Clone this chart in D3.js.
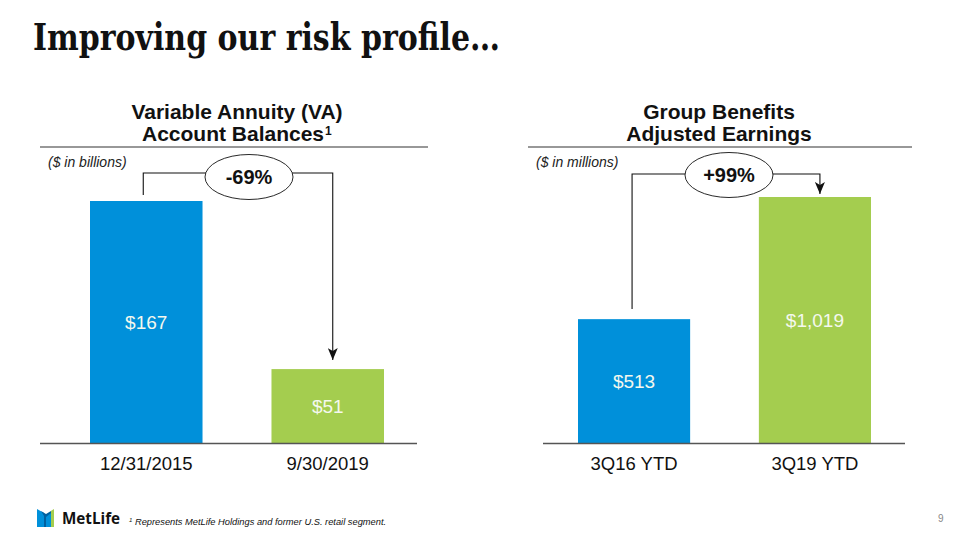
<!DOCTYPE html>
<html><head><meta charset="utf-8">
<script src="https://cdn.jsdelivr.net/npm/d3@7/dist/d3.min.js"></script>
<style>
html,body{margin:0;padding:0;background:#fff;}
svg{display:block;}
text{font-family:"Liberation Sans",Arial,sans-serif;}
</style></head>
<body>
<script>
// ---- data ----
const vaCategories = ["12/31/2015", "9/30/2019"];
const vaValues = [167, 51];
const vaLabels = ["$167", "$51"];
const vaChange = "-69%";

const gbCategories = ["3Q16 YTD", "3Q19 YTD"];
const gbValues = [513, 1019];
const gbLabels = ["$513", "$1,019"];
const gbChange = "+99%";

const barColors = ["#0090da", "#a4cd4f"];

const W = 960, H = 540;
const svg = d3.select("body").append("svg").attr("width", W).attr("height", H);

svg.append("defs").append("marker")
  .attr("id", "arr").attr("viewBox", "0 0 12 10").attr("refX", 12).attr("refY", 5)
  .attr("markerWidth", 12).attr("markerHeight", 10).attr("markerUnits", "userSpaceOnUse")
  .attr("orient", "auto")
  .append("path").attr("d", "M0,0 L12,5 L0,10 L3,5 Z").attr("fill", "#111");

// title
svg.append("text").attr("x", 33).attr("y", 50)
  .style("font-family", "'DejaVu Serif','Liberation Serif',serif")
  .style("font-weight", "bold").style("font-size", "38px").attr("fill", "#111")
  .attr("textLength", 467).attr("lengthAdjust", "spacingAndGlyphs")
  .text("Improving our risk profile…");

function panel(cfg) {
  const g = svg.append("g");
  const x = d3.scaleBand().domain(cfg.categories).range(cfg.bandRange)
    .paddingInner(0.38).paddingOuter(0);
  const y = d3.scaleLinear().domain([0, d3.max(cfg.values)]).range([443, cfg.topY]);

  // header
  g.append("text").attr("text-anchor", "middle").attr("fill", "#111")
    .style("font-weight", "bold").style("font-size", "21px")
    .attr("x", cfg.titleX).attr("y", 119).text(cfg.title1);
  const t2 = g.append("text").attr("text-anchor", "middle").attr("fill", "#111")
    .style("font-weight", "bold").style("font-size", "21px")
    .attr("x", cfg.titleX - (cfg.sup ? 4 : 0)).attr("y", 141).text(cfg.title2);
  if (cfg.sup) {
    const bb = t2.node().getBBox();
    g.append("text").attr("x", bb.x + bb.width + 1).attr("y", 135).attr("fill", "#111")
      .style("font-weight", "bold").style("font-size", "12px").text(cfg.sup);
  }
  g.append("line").attr("x1", cfg.ruleX[0]).attr("x2", cfg.ruleX[1])
    .attr("y1", 147).attr("y2", 147).attr("stroke", "#333").attr("stroke-width", 1.2);
  g.append("text").attr("x", cfg.unitX).attr("y", 167).attr("fill", "#222")
    .style("font-style", "italic").style("font-size", "14px").text(cfg.unit);

  // bars
  g.selectAll("rect.bar").data(cfg.values).join("rect").attr("class", "bar")
    .attr("x", (d, i) => x(cfg.categories[i])).attr("width", x.bandwidth())
    .attr("y", d => y(d)).attr("height", d => y(0) - y(d))
    .attr("fill", (d, i) => barColors[i]);

  g.selectAll("text.val").data(cfg.values).join("text").attr("class", "val")
    .attr("x", (d, i) => x(cfg.categories[i]) + x.bandwidth() / 2)
    .attr("y", d => (y(d) + y(0)) / 2 + 7)
    .attr("text-anchor", "middle").attr("fill", "#f4f8ee").style("font-size", "19px")
    .text((d, i) => cfg.labels[i]);

  // baseline + axis labels
  g.append("line").attr("x1", cfg.baseX[0]).attr("x2", cfg.baseX[1])
    .attr("y1", 443.5).attr("y2", 443.5).attr("stroke", "#555").attr("stroke-width", 1.3);
  const xa = g.append("g").attr("transform", "translate(0,443)")
    .call(d3.axisBottom(x).tickSize(0).tickPadding(14));
  xa.select(".domain").remove();
  xa.selectAll("text").style("font-size", "18.5px").attr("fill", "#111")
    .style("font-family", "'Liberation Sans',Arial,sans-serif");

  // callout
  const c0 = x(cfg.categories[0]) + x.bandwidth() / 2 + cfg.off[0];
  const c1 = x(cfg.categories[1]) + x.bandwidth() / 2 + cfg.off[1];
  const ly = cfg.lineY;
  g.append("path").attr("fill", "none").attr("stroke", "#111").attr("stroke-width", 1.1)
    .attr("d", `M${c0},${cfg.leftEnd} V${ly} H${cfg.ex}`);
  g.append("path").attr("fill", "none").attr("stroke", "#111").attr("stroke-width", 1.1)
    .attr("marker-end", "url(#arr)")
    .attr("d", `M${cfg.ex},${ly} H${c1} V${cfg.arrowEnd}`);
  g.append("ellipse").attr("cx", cfg.ex).attr("cy", cfg.ey).attr("rx", 44).attr("ry", 22.5)
    .attr("fill", "#fff").attr("stroke", "#111").attr("stroke-width", 0.9);
  g.append("text").attr("x", cfg.ex).attr("y", cfg.ey + 7).attr("text-anchor", "middle")
    .style("font-weight", "bold").style("font-size", "20px").attr("fill", "#111").text(cfg.change);
}

panel({
  categories: vaCategories, values: vaValues, labels: vaLabels, change: vaChange,
  bandRange: [90, 384], topY: 201, baseX: [40, 417],
  title1: "Variable Annuity (VA)", title2: "Account Balances", sup: "1", titleX: 237,
  ruleX: [40, 428], unitX: 48, unit: "($ in billions)",
  off: [-3, 5], lineY: 173, leftEnd: 195, arrowEnd: 360, ex: 249, ey: 177
});
panel({
  categories: gbCategories, values: gbValues, labels: gbLabels, change: gbChange,
  bandRange: [578, 871], topY: 197, baseX: [543, 905],
  title1: "Group Benefits", title2: "Adjusted Earnings", sup: null, titleX: 719,
  ruleX: [528, 912], unitX: 536, unit: "($ in millions)",
  off: [-2, 5], lineY: 174, leftEnd: 309, arrowEnd: 194, ex: 729, ey: 175
});

// footer: logo
const logo = svg.append("g").attr("transform", "translate(37,508)");
logo.append("path").attr("d", "M0,1 L7,5 L7,19 L0,19 Z").attr("fill", "#0090da");
logo.append("path").attr("d", "M4,3 L9,6 L14,3 L14,19 L7,19 L7,8 Z").attr("fill", "#0061a0");
logo.append("path").attr("d", "M9,6 L17,1 L17,19 L14,19 L14,3 Z").attr("fill", "#a4cd4f");
logo.append("path").attr("d", "M9,9 L14,5 L14,19 L9,19 Z").attr("fill", "#0090da");
svg.append("text").attr("x", 62).attr("y", 524).style("font-weight", "bold")
  .style("font-size", "16px").attr("fill", "#111")
  .attr("textLength", 58).attr("lengthAdjust", "spacingAndGlyphs")
  .style("font-family", "'Open Sans','Liberation Sans',sans-serif").text("MetLife");

const fn = svg.append("text").attr("x", 129).attr("y", 525).attr("fill", "#111")
  .style("font-style", "italic").style("font-size", "9.3px");
fn.append("tspan").attr("dy", -3).style("font-size", "6px").text("1");
fn.append("tspan").attr("dy", 3).text(" Represents MetLife Holdings and former U.S. retail segment.");

svg.append("text").attr("x", 938).attr("y", 522).attr("fill", "#888")
  .style("font-size", "10px").text("9");
</script>
</body></html>
